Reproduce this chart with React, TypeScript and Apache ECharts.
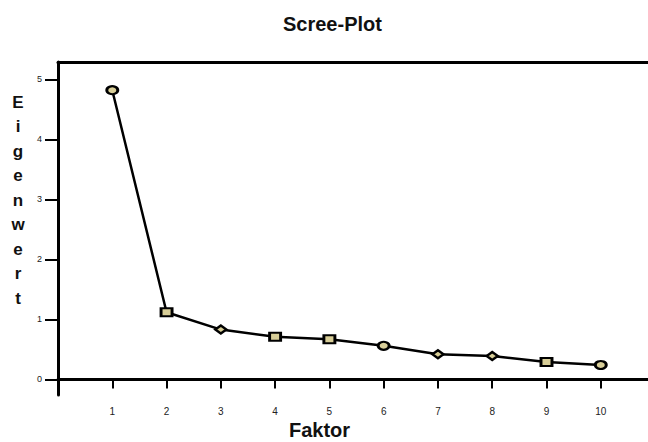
import React, { useEffect, useRef } from "react";
import * as echarts from "echarts";

const factors = [1, 2, 3, 4, 5, 6, 7, 8, 9, 10];
const eigenvalues = [4.82, 1.12, 0.83, 0.71, 0.67, 0.56, 0.42, 0.39, 0.29, 0.24];
const markerShapes = ["circle", "rect", "diamond", "rect", "rect", "circle", "diamond", "diamond", "rect", "circle"];
const yTicks = [0, 1, 2, 3, 4, 5];
const xTicks = [1, 2, 3, 4, 5, 6, 7, 8, 9, 10];
const titleText = "Scree-Plot";
const xTitle = "Faktor";
const yTitle = "Eigenwert";

export default function App() {
  const ref = useRef<HTMLDivElement>(null);
  useEffect(() => {
    if (!ref.current) return;
    const chart = echarts.init(ref.current, null, { renderer: "svg" });
    const font = "'Liberation Sans', Arial, sans-serif";
    const fill = "#d8ce98";
    chart.setOption({
      animation: false,
      backgroundColor: "#ffffff",
      grid: { left: 58, right: 0, top: 62, bottom: 47 },
      xAxis: [
        {
          type: "value",
          min: 0,
          max: 10.87,
          position: "bottom",
          splitLine: { show: false },
          axisLine: { show: true, lineStyle: { color: "#000", width: 3 } },
          axisTick: { show: true, customValues: xTicks, length: 9, lineStyle: { color: "#000", width: 2 } },
          axisLabel: {
            customValues: xTicks,
            color: "#222",
            fontSize: 10,
            fontFamily: font,
            margin: 11,
          },
        },
        {
          type: "value",
          min: 0,
          max: 10.87,
          position: "top",
          splitLine: { show: false },
          axisLine: { show: true, lineStyle: { color: "#000", width: 3 } },
          axisTick: { show: false },
          axisLabel: { show: false },
        },
      ],
      yAxis: {
        type: "value",
        min: -0.26,
        max: 5.29,
        splitLine: { show: false },
        axisLine: { show: true, lineStyle: { color: "#000", width: 3 } },
        axisTick: { show: true, customValues: yTicks, length: 13, lineStyle: { color: "#000", width: 2 } },
        axisLabel: {
          customValues: yTicks,
          color: "#222",
          fontSize: 9,
          fontFamily: font,
          margin: 16,
        },
      },
      series: [
        {
          type: "line",
          xAxisIndex: 0,
          data: factors.map((f, i) => ({
            value: [f, eigenvalues[i]],
            symbol: markerShapes[i],
          })),
          symbolSize: [11, 8],
          showAllSymbol: true,
          lineStyle: { color: "#000", width: 2.5 },
          itemStyle: { color: fill, borderColor: "#000", borderWidth: 2.5 },
          z: 3,
        },
      ],
      graphic: [
        {
          type: "text",
          left: 283,
          top: 14,
          style: { text: titleText, font: `bold 20px ${font}`, fill: "#111" },
        },
        {
          type: "text",
          left: 289,
          top: 420,
          style: { text: xTitle, font: `bold 20px ${font}`, fill: "#111" },
        },
        {
          type: "text",
          x: 18,
          y: 90,
          style: {
            text: yTitle.split("").join("\n"),
            font: `bold 17px ${font}`,
            lineHeight: 24.5,
            fill: "#111",
            align: "center",
            verticalAlign: "top",
          },
        },
      ],
    });
    return () => chart.dispose();
  }, []);
  return (
    <div
      ref={ref}
      style={{ position: "fixed", left: 0, top: 0, width: 648, height: 442, background: "#fff" }}
    />
  );
}
